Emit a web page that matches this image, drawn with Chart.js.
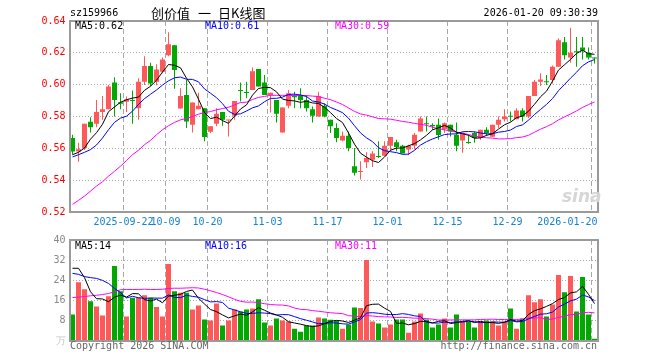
<!DOCTYPE html>
<html><head><meta charset="utf-8">
<script src="https://cdn.jsdelivr.net/npm/chart.js@4/dist/chart.umd.min.js"></script>
<style>
html,body{margin:0;padding:0;background:#fff;}
#wrap{position:relative;width:660px;height:360px;overflow:hidden;background:#fff;}
.t{position:absolute;font:10px "DejaVu Sans Mono",monospace;white-space:pre;line-height:12px;color:#000;}
.c{position:absolute;font:13px 'Noto Sans CJK SC';line-height:16px;top:5px;white-space:pre;color:#000;}
canvas{position:absolute;left:0;}
</style></head><body>
<div id="wrap">
<canvas id="pc" width="660" height="236" style="top:0px"></canvas>
<canvas id="vc" width="660" height="130" style="top:230px"></canvas>
<div class="t" style="left:70px;top:7px;">sz159966</div>
<div class="c" style="left:151px;">创价值</div>
<div class="c" style="left:198px;">一</div>
<div class="c" style="left:218px;">日K线图</div>
<div class="t" style="right:62px;top:7px;">2026-01-20 09:30:39</div>
<div class="t" style="left:75px;top:20px;">MA5:0.62</div>
<div class="t" style="left:205px;top:20px;color:#0000ff;">MA10:0.61</div>
<div class="t" style="left:335px;top:20px;color:#ff00ff;">MA30:0.59</div>
<div class="t" style="left:75px;top:240px;">MA5:14</div>
<div class="t" style="left:205px;top:240px;color:#0000ff;">MA10:16</div>
<div class="t" style="left:335px;top:240px;color:#ff00ff;">MA30:11</div>
<div class="t" style="left:70px;top:340px;color:#666;">Copyright 2026 SINA.COM</div>
<div class="t" style="right:63px;top:340px;color:#666;">http://finance.sina.com.cn</div>
<div class="t" style="left:562px;top:186px;font:italic bold 17px 'DejaVu Sans';color:#d6d6d6;line-height:20px;">sina</div>
</div>
<script>
const dates = [
"2025-09-09","2025-09-10","2025-09-11","2025-09-12","2025-09-15","2025-09-16","2025-09-17","2025-09-18","2025-09-19","2025-09-22","2025-09-23","2025-09-24","2025-09-25","2025-09-26","2025-09-29","2025-09-30",
"2025-10-09","2025-10-10","2025-10-13","2025-10-14","2025-10-15","2025-10-16","2025-10-17","2025-10-20","2025-10-21","2025-10-22","2025-10-23","2025-10-24","2025-10-27","2025-10-28","2025-10-29","2025-10-30","2025-10-31",
"2025-11-03","2025-11-04","2025-11-05","2025-11-06","2025-11-07","2025-11-10","2025-11-11","2025-11-12","2025-11-13","2025-11-14","2025-11-17","2025-11-18","2025-11-19","2025-11-20","2025-11-21","2025-11-24","2025-11-25","2025-11-26","2025-11-27","2025-11-28",
"2025-12-01","2025-12-02","2025-12-03","2025-12-04","2025-12-05","2025-12-08","2025-12-09","2025-12-10","2025-12-11","2025-12-12","2025-12-15","2025-12-16","2025-12-17","2025-12-18","2025-12-19","2025-12-22","2025-12-23","2025-12-24","2025-12-25","2025-12-26","2025-12-29","2025-12-30","2025-12-31",
"2026-01-05","2026-01-06","2026-01-07","2026-01-08","2026-01-09","2026-01-12","2026-01-13","2026-01-14","2026-01-15","2026-01-16","2026-01-19","2026-01-20"];

const openP = [0.5665,0.5580,0.5602,0.5767,0.5754,0.5829,0.5846,0.6013,0.5890,0.5892,
0.5904,0.5852,0.6019,0.6117,0.6019,0.6081,0.6185,0.6248,0.5850,0.5935,
0.5748,0.5846,0.5852,0.5704,0.5754,0.5829,0.5775,0.5804,0.5967,0.5952,
0.5967,0.6098,0.6013,0.5935,0.5904,0.5700,0.5867,0.5933,0.5935,0.5904,
0.5846,0.5800,0.5867,0.5779,0.5727,0.5650,0.5679,0.5488,0.5452,0.5513,
0.5529,0.5552,0.5554,0.5617,0.5638,0.5617,0.5592,0.5617,0.5706,0.5756,
0.5746,0.5748,0.5721,0.5748,0.5685,0.5650,0.5635,0.5696,0.5665,0.5717,
0.5673,0.5748,0.5783,0.5802,0.5783,0.5838,0.5800,0.5929,0.6019,0.6019,
0.6029,0.6113,0.6267,0.6171,0.6208,0.6233,0.6200,0.6167];
const highP = [0.5685,0.5635,0.5755,0.5796,0.5904,0.5929,0.5998,0.6046,0.5946,0.5925,
0.5963,0.6040,0.6179,0.6138,0.6129,0.6171,0.6329,0.6250,0.5977,0.6029,
0.5888,0.5950,0.5852,0.5738,0.5852,0.5829,0.5780,0.5898,0.6013,0.6019,
0.6108,0.6098,0.6060,0.5950,0.5904,0.5856,0.5967,0.5956,0.5977,0.5935,
0.5863,0.5956,0.5883,0.5779,0.5758,0.5706,0.5706,0.5602,0.5519,0.5575,
0.5581,0.5644,0.5644,0.5671,0.5654,0.5623,0.5623,0.5696,0.5800,0.5800,
0.5758,0.5788,0.5763,0.5748,0.5763,0.5696,0.5685,0.5706,0.5717,0.5733,
0.5748,0.5800,0.5846,0.5831,0.5852,0.5852,0.5929,0.6029,0.6071,0.6060,
0.6121,0.6290,0.6300,0.6358,0.6300,0.6300,0.6233,0.6171];
const lowP = [0.5560,0.5515,0.5590,0.5700,0.5733,0.5780,0.5846,0.5800,0.5846,0.5829,
0.5754,0.5780,0.5998,0.5992,0.5996,0.6071,0.6179,0.5975,0.5850,0.5727,
0.5700,0.5846,0.5644,0.5696,0.5738,0.5742,0.5675,0.5780,0.5894,0.5915,
0.5967,0.5988,0.5935,0.5825,0.5763,0.5700,0.5852,0.5852,0.5852,0.5831,
0.5763,0.5800,0.5796,0.5696,0.5638,0.5644,0.5581,0.5429,0.5404,0.5477,
0.5483,0.5540,0.5554,0.5581,0.5581,0.5567,0.5556,0.5592,0.5706,0.5706,
0.5717,0.5654,0.5696,0.5675,0.5581,0.5573,0.5629,0.5635,0.5654,0.5679,
0.5673,0.5727,0.5769,0.5769,0.5783,0.5769,0.5790,0.5929,0.5992,0.5998,
0.6008,0.6113,0.6158,0.6138,0.6113,0.6158,0.6158,0.6133];
const closeP = [0.5580,0.5595,0.5754,0.5733,0.5829,0.5846,0.5988,0.5904,0.5880,0.5908,
0.5898,0.6019,0.6117,0.6008,0.6096,0.6158,0.6254,0.6092,0.5929,0.5769,
0.5888,0.5867,0.5671,0.5738,0.5817,0.5779,0.5780,0.5898,0.5960,0.5948,
0.6085,0.5988,0.5935,0.5950,0.5817,0.5856,0.5946,0.5921,0.5904,0.5852,
0.5804,0.5929,0.5800,0.5738,0.5665,0.5679,0.5602,0.5446,0.5456,0.5540,
0.5567,0.5546,0.5617,0.5671,0.5608,0.5567,0.5617,0.5685,0.5788,0.5752,
0.5738,0.5683,0.5758,0.5706,0.5617,0.5696,0.5633,0.5665,0.5717,0.5696,
0.5748,0.5779,0.5800,0.5798,0.5838,0.5800,0.5929,0.6019,0.6033,0.6015,
0.6113,0.6279,0.6185,0.6200,0.6204,0.6213,0.6171,0.6165];
const volume = [10.5,23.3,20.5,15.7,13.7,10.1,17.7,29.7,19.7,9.7,
17.1,17.3,18.1,17.1,13.5,9.7,30.5,19.7,19.1,19.1,
12.5,14.1,8.5,8.1,14.9,6.1,8.1,12.5,11.7,12.5,
12.9,16.5,7.3,6.1,8.9,8.1,7.7,4.9,3.7,6.1,
6.1,9.3,8.9,8.4,8.1,4.9,6.5,13.3,13.1,32.1,
7.7,6.9,5.3,6.5,8.5,8.5,3.3,7.7,10.9,8.5,
5.3,6.5,8.9,5.3,10.5,7.7,7.7,5.3,7.7,8.1,
7.7,6.1,7.7,12.9,4.9,8.9,18.1,15.3,16.5,9.7,
14.5,26.1,19.3,25.7,11.7,25.3,10.5,0.9];

// moving-average values before enough history is on screen
const ma5Head = [0.5560,0.5575,0.5602,0.5658];
const ma10Head = [0.5546,0.5560,0.5575,0.5592,0.5621,0.5665,0.5717,0.5763,0.5790];
const ma30Head = [0.5248,0.5273,0.5300,0.5331,0.5363,0.5390,0.5425,0.5456,0.5488,0.5523,0.5560,0.5588,0.5623,0.5650,0.5685,0.5717,0.5742,0.5763,0.5779,0.5788,0.5800,0.5815,0.5825,0.5831,0.5842,0.5850,0.5858,0.5873,0.5888];
const volMa5Head = [28.8,28.8,25.1,19.5];
const volMa10Head = [26.8,26.4,25.5,25.1,24.8,24.0,22.8,20.8,19.2];
const volMa30Head = [17.2,17.4,17.6,17.9,18.1,18.4,18.8,19.5,20.3,20.4,20.4,20.4,20.5,20.4,20.4,20.5,20.8,20.9,20.9,21.0,21.1,21.0,20.5,19.9,19.2,18.4,17.5,16.5,15.7];

const tickDates = ["2025-09-22","2025-10-09","2025-10-20","2025-11-03","2025-11-17","2025-12-01","2025-12-15","2025-12-29","2026-01-20"];
const tickLabels = ["2025-09-22","10-09","10-20","11-03","11-17","12-01","12-15","12-29","2026-01-20"];
const priceTicks = [0.52,0.54,0.56,0.58,0.60,0.62,0.64];
const volTicks = [0,8,16,24,32,40];

function movingAvg(vals, n, head) {
  return vals.map((v, i) => {
    if (i < n - 1) return head[i];
    let s = 0;
    for (let k = i - n + 1; k <= i; k++) s += vals[k];
    return s / n;
  });
}

const RED = '#ff5858', GREEN = '#00a800', GRID = '#a8a8a8', FRAME = '#9a9a9a';
const colors = closeP.map((c, i) => c >= openP[i] ? RED : GREEN);
const tickIdx = new Set(tickDates.map(d => dates.indexOf(d)));
const MONO = '"DejaVu Sans Mono", monospace';

const framePlugin = {
  id: 'frame',
  afterDraw(chart) {
    const a = chart.chartArea, ctx = chart.ctx;
    ctx.save();
    ctx.strokeStyle = FRAME; ctx.lineWidth = 2;
    ctx.strokeRect(a.left + 0.5, a.top, a.right - a.left, a.bottom - a.top);
    ctx.restore();
  }
};
const xLabelPlugin = {
  id: 'xlabels',
  afterDraw(chart) {
    const xs = chart.scales.x, a = chart.chartArea, ctx = chart.ctx;
    ctx.save();
    ctx.font = '10px ' + MONO; ctx.fillStyle = '#1682d4';
    ctx.textAlign = 'center'; ctx.textBaseline = 'middle';
    tickDates.forEach((d, k) => {
      const i = dates.indexOf(d);
      const edge = (xs.getPixelForValue(i) + xs.getPixelForValue(i - 1)) / 2;
      const w = ctx.measureText(tickLabels[k]).width;
      const cx = Math.min(edge, a.right - w / 2);
      ctx.fillText(tickLabels[k], cx, a.bottom + 10);
    });
    ctx.restore();
  }
};

function xScale(h) {
  return {
    offset: true,
    grid: { offset: true, drawTicks: false, lineWidth: 1,
      color: c => tickIdx.has(c.index) ? GRID : 'rgba(0,0,0,0)' },
    border: { display: false, dash: [5, 3] },
    ticks: { display: false, autoSkip: false },
    afterFit: s => { s.height = h; }
  };
}
const lineDs = (data, color) => ({ type: 'line', data, borderColor: color, borderWidth: 1, pointRadius: 0, tension: 0, order: 0 });

new Chart(document.getElementById('pc'), {
  type: 'bar',
  data: {
    labels: dates,
    datasets: [
      lineDs(movingAvg(closeP, 5, ma5Head), '#000000'),
      lineDs(movingAvg(closeP, 10, ma10Head), '#0000ff'),
      lineDs(movingAvg(closeP, 30, ma30Head), '#ff00ff'),
      { type: 'bar', data: openP.map((o, i) => [o, closeP[i]]), backgroundColor: colors,
        barThickness: 5, minBarLength: 1, grouped: false, inflateAmount: 0, borderWidth: 0, order: 1 },
      { type: 'bar', data: lowP.map((l, i) => [l, highP[i]]), backgroundColor: colors,
        barThickness: 1, minBarLength: 1, grouped: false, inflateAmount: 0, borderWidth: 0, order: 2 }
    ]
  },
  options: {
    responsive: false, animation: false, events: [],
    layout: { padding: { left: 0, right: 62.5, top: 21, bottom: 0 } },
    plugins: { legend: { display: false }, tooltip: { enabled: false } },
    scales: {
      x: xScale(24),
      y: {
        min: priceTicks[0], max: priceTicks[priceTicks.length - 1],
        afterBuildTicks: s => { s.ticks = priceTicks.map(v => ({ value: v })); },
        ticks: { color: '#ff0000', font: { family: MONO, size: 10 }, padding: 4,
          callback: v => Number(v).toFixed(2) },
        grid: { drawTicks: false, lineWidth: 1,
          color: c => (c.tick && (c.tick.value <= priceTicks[0] + 1e-9 || c.tick.value >= priceTicks[priceTicks.length - 1] - 1e-9)) ? 'rgba(0,0,0,0)' : GRID },
        border: { display: false, dash: [1, 2] },
        afterFit: s => { s.width = 69.5; }
      }
    }
  },
  plugins: [framePlugin, xLabelPlugin]
});

new Chart(document.getElementById('vc'), {
  type: 'bar',
  data: {
    labels: dates,
    datasets: [
      lineDs(movingAvg(volume, 5, volMa5Head), '#000000'),
      lineDs(movingAvg(volume, 10, volMa10Head), '#0000ff'),
      lineDs(movingAvg(volume, 30, volMa30Head), '#ff00ff'),
      { type: 'bar', data: volume, backgroundColor: colors, barThickness: 5,
        grouped: false, inflateAmount: 0, borderWidth: 0, order: 1 }
    ]
  },
  options: {
    responsive: false, animation: false, events: [],
    layout: { padding: { left: 0, right: 62.5, top: 10, bottom: 0 } },
    plugins: { legend: { display: false }, tooltip: { enabled: false } },
    scales: {
      x: xScale(19),
      y: {
        min: volTicks[0], max: volTicks[volTicks.length - 1],
        afterBuildTicks: s => { s.ticks = volTicks.map(v => ({ value: v })); },
        ticks: { font: { family: MONO, size: 10 }, padding: 4,
          color: c => c.tick && c.tick.value === 0 ? '#c8c8c8' : '#888888',
          callback: v => v === 0 ? '万' : String(v) },
        grid: { drawTicks: false, lineWidth: 1,
          color: c => (c.tick && (c.tick.value === volTicks[0] || c.tick.value === volTicks[volTicks.length - 1])) ? 'rgba(0,0,0,0)' : GRID },
        border: { display: false, dash: [1, 2] },
        afterFit: s => { s.width = 69.5; }
      }
    }
  },
  plugins: [framePlugin]
});
</script>
</body></html>
